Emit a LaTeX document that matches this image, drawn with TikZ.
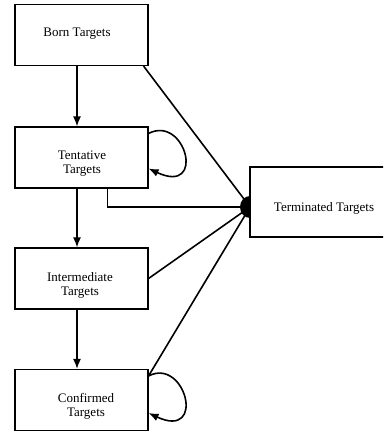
\documentclass[tikz,border=0pt]{standalone}
\usepackage{fontspec}
\setmainfont{Liberation Serif}
\usetikzlibrary{arrows.meta}

\tikzset{
  box/.style={draw, line width=1.1pt, minimum width=133pt, minimum height=61pt, inner sep=0pt},
  lbl/.style={align=center, font=\fontsize{13}{14}\selectfont},
  conn/.style={line width=1.6pt},
  tip/.style={conn, -{Latex[length=10pt,width=8pt]}}
}

\begin{document}
\begin{tikzpicture}[x=1pt,y=-1pt]
\useasboundingbox (0,0) rectangle (383,435);
\clip (0,0) rectangle (383,435);
% boxes
\node[box] (born) at (81.5,35) {};
\node[box] (tent) at (81.5,157.5) {};
\node[box] (inter) at (81.5,278.5) {};
\node[box] (conf) at (81.5,400) {};
\node[box, minimum width=150pt, minimum height=70pt] (term) at (325,202) {};
\node[lbl] (borntxt) at (77,34) {Born Targets};
\node[lbl] (tenttxt) at (82,164) {Tentative\\Targets};
\node[lbl] (intertxt) at (80,285) {Intermediate\\Targets};
\node[lbl] (conftxt) at (86,406) {Confirmed\\Targets};
\node[lbl] (termtxt) at (324,208) {Terminated Targets};
\coordinate (hub) at (250,207);
% down the chain
\draw[tip] ([xshift=-4.5pt]born.south) -- ([xshift=-4.5pt]tent.north);
\draw[tip] ([xshift=-4.5pt]tent.south) -- ([xshift=-4.5pt]inter.north);
\draw[tip] ([xshift=-4.5pt]inter.south) -- ([xshift=-4.5pt]conf.north);
% self loops
\draw[tip] ([yshift=-7pt]tent.north east) .. controls +(37,-19) and +(58,27) .. ([yshift=20pt]tent.south east);
\draw[tip] ([yshift=-7pt]conf.north east) .. controls +(37,-19) and +(58,27) .. ([yshift=18pt]conf.south east);
% into terminated
\draw[conn] ([xshift=-5pt]born.south east) -- (hub);
\draw[conn] ([xshift=26pt]tent.south) |- (hub);
\draw[conn] (inter.east) -- (hub);
\draw[conn] ([yshift=-7pt]conf.north east) -- (hub);
\fill (hub) ++(0,11) arc[start angle=90, end angle=270, x radius=10, y radius=11] -- cycle;
\end{tikzpicture}
\end{document}
